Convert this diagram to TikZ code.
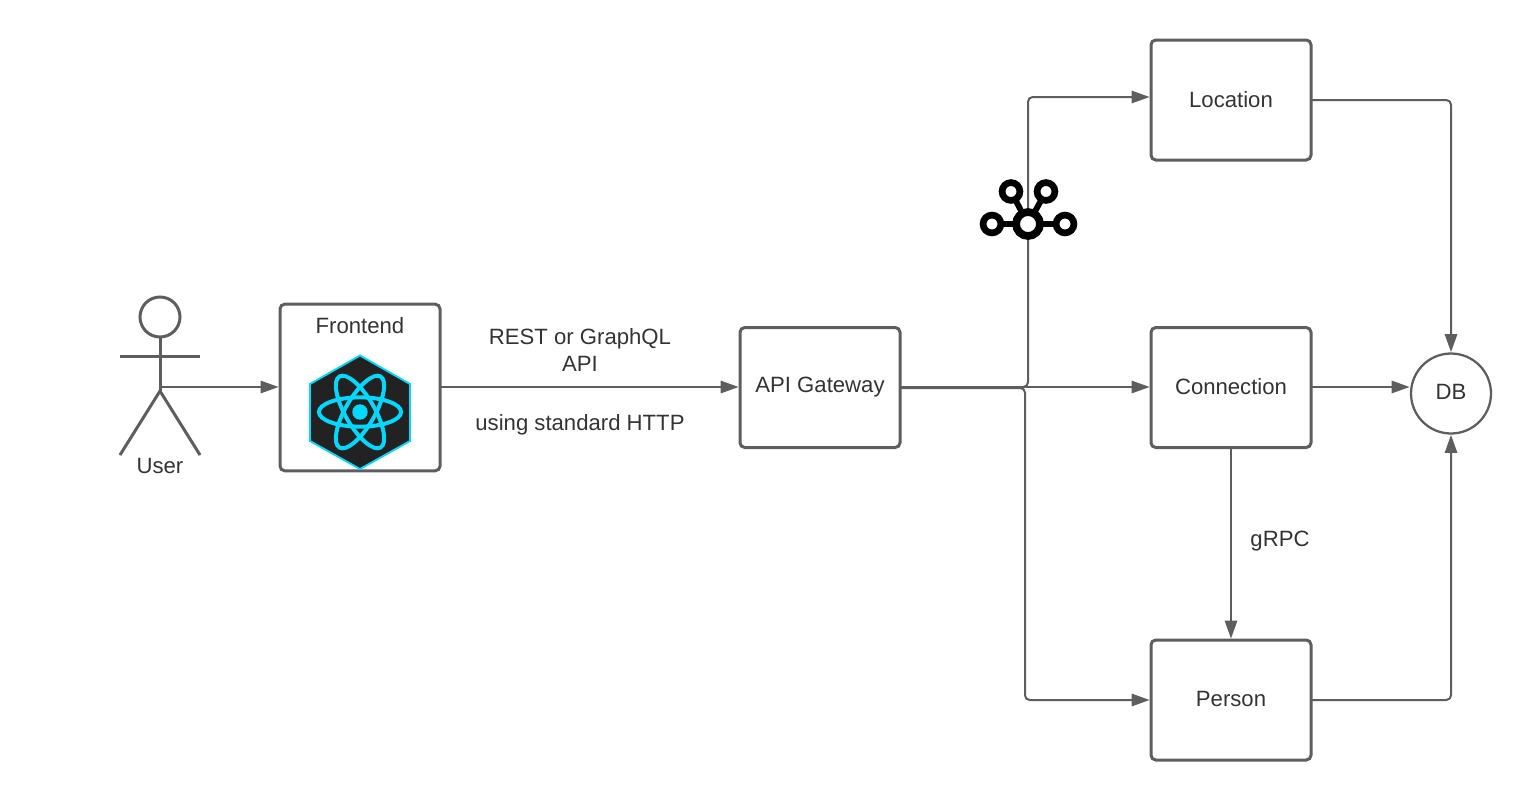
\documentclass[tikz,border=0pt]{standalone}
\usepackage{fontspec}
\setmainfont{Liberation Sans}
\usetikzlibrary{arrows.meta,calc}
\definecolor{ink}{HTML}{5E5E5E}
\definecolor{txt}{HTML}{333333}
\definecolor{reactc}{HTML}{00D8FF}
\definecolor{reactbg}{HTML}{222222}
\newcommand{\lift}[2]{\raisebox{#1}{#2}}
\tikzset{
  boxn/.style={draw=ink,line width=2.25pt,rounded corners=3.6pt,inner sep=0pt,outer sep=0pt,minimum width=120pt,minimum height=90pt,text=txt,font=\fontsize{16.6}{16.6}\selectfont},
  dbn/.style={draw=ink,line width=1.7pt,circle,inner sep=0pt,outer sep=0pt,minimum size=60pt,text=txt,font=\fontsize{16.6}{16.6}\selectfont},
  lab/.style={text=txt,font=\fontsize{16.6}{20.4}\selectfont,align=center,inner sep=0pt},
  conn/.style={draw=ink,line width=1.5pt,rounded corners=3.5pt,-{Triangle[length=13.5pt,width=9.2pt]},shorten >=1pt},
  actorline/.style={draw=ink,line width=2.25pt},
  kaf/.style={draw=black,line width=5.8pt,fill=white},
  kafs/.style={draw=black,line width=5pt,fill=white},
  kafl/.style={draw=black,line width=4.4pt},
  atom/.style={draw=reactc,line width=3pt}
}
\begin{document}
\begin{tikzpicture}[x=0.75pt,y=-0.75pt]
\useasboundingbox (0,0) rectangle (1531,800);
% nodes
\node[boxn,minimum height=125pt] (front) at (360,387.5) {};
\node[boxn] (gate) at (820,387.5) {\lift{-0.6pt}{API Gateway}};
\node[boxn] (loc) at (1231,100) {\lift{1.4pt}{Location}};
\node[boxn] (con) at (1231,387.5) {\lift{1.1pt}{Connection}};
\node[boxn] (per) at (1231,700) {\lift{1.4pt}{Person}};
\node[dbn] (db) at (1451,393.5) {\lift{2.6pt}{DB}};
\node[lab] (lfront) at (360,326) {Frontend};
\node[lab] (luser) at (160,466) {User};
\node[lab] (lrest) at (580,350.2) {REST or GraphQL\\API};
\node[lab] (lhttp) at (580,424.5) {using standard HTTP};
\node[lab] (lgrpc) at (1280,541) {gRPC};
% actor
\node[draw=ink,line width=2.25pt,circle,inner sep=0pt,outer sep=0pt,minimum size=30pt] (head) at (160,317) {};
\coordinate (hip) at (160,391);
\coordinate (hand) at (160,387);
\draw[actorline] (head.south) -- (hip);
\draw[actorline] (120,356) -- (200,356);
\draw[actorline] (120,455) -- (hip) -- (200,455);
% connectors
\coordinate (g1) at (901,387);
\coordinate (g2) at (901,388);
\draw[conn] (hand) -- (front.west|-hand);
\draw[conn] (front.east|-g1) -- (gate.west|-g1);
\draw[conn] (g1) -- (1028,387) -- (1028,97) -- (loc.west|-0,97);
\draw[conn] (g1) -- (con.west|-g1);
\draw[conn] (g2) -- (1025,388) -- (1025,700) -- (per.west);
\draw[conn] (loc.east) -- (db.north|-loc.east) -- (db.north);
\draw[conn] (con.east|-g1) -- (db.west|-g1);
\draw[conn] (per.east) -- (db.south|-per.east) -- (db.south);
\draw[conn] (con.south) -- (per.north);
% kafka icon
\coordinate (kc) at (1028,224);
\coordinate (kl) at (992,224);
\coordinate (kr) at (1065,224);
\coordinate (ktl) at (1011,191.5);
\coordinate (ktr) at (1046,191.5);
\draw[kafl] (kl) -- (kr) (kc) -- (ktl) (kc) -- (ktr);
\draw[kaf] (kc) circle (9pt);
\draw[kafs] (kl) circle (6.7pt);
\draw[kafs] (kr) circle (6.7pt);
\draw[kafs] (ktl) circle (6.7pt);
\draw[kafs] (ktr) circle (6.7pt);
% react logo
\draw[draw=reactc,fill=reactbg,line width=1.4pt] (360,355.5) -- (410,384) -- (410,441) -- (360,469) -- (310,441) -- (310,384) -- cycle;
\coordinate (rc) at (360,412);
\foreach \a in {0,60,120}{
  \draw[atom,rotate around={\a:(rc)}] (rc) ellipse [x radius=30.8pt,y radius=11pt];
}
\fill[reactc] (rc) circle (5.8pt);
\end{tikzpicture}
\end{document}
